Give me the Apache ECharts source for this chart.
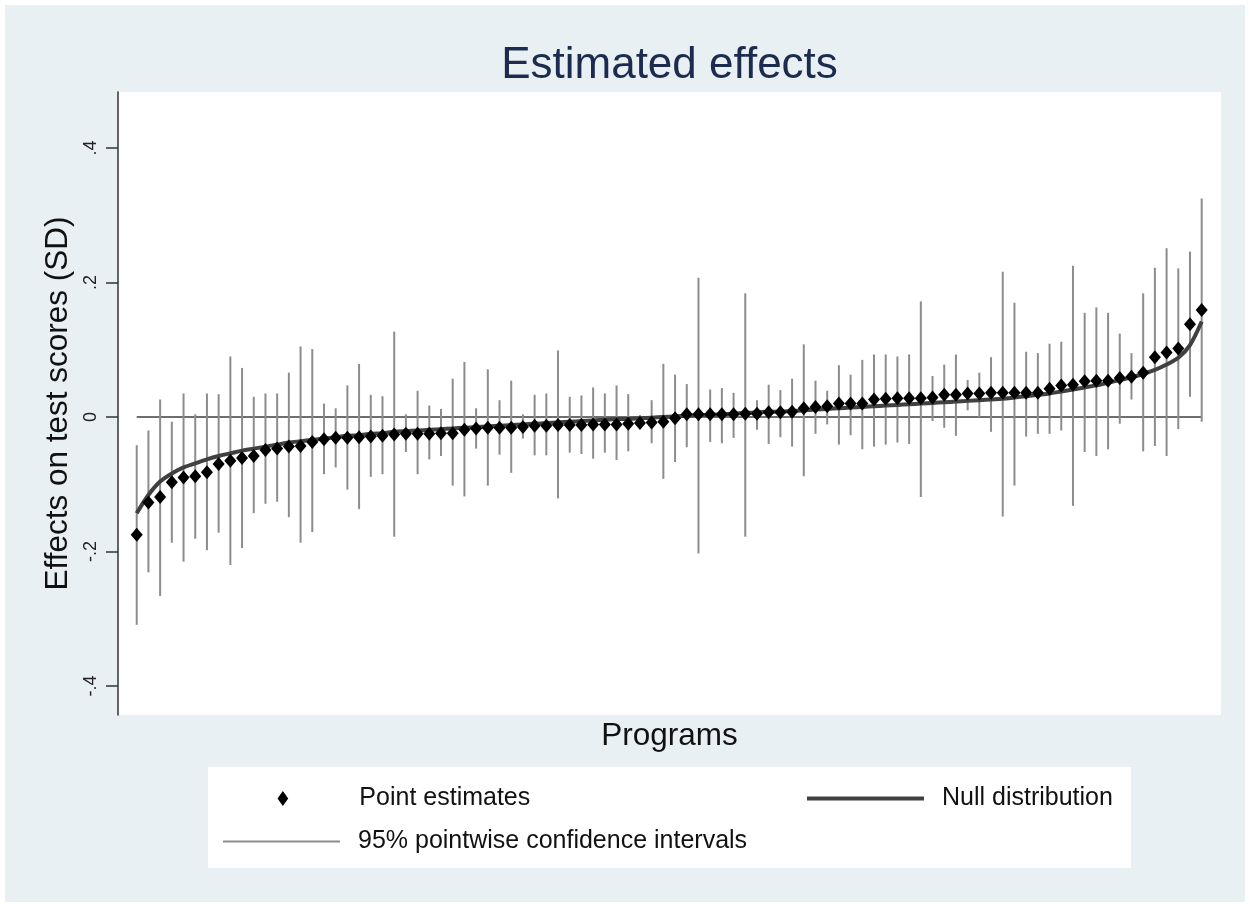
<!DOCTYPE html>
<html>
<head>
<meta charset="utf-8">
<script src="https://cdn.jsdelivr.net/npm/echarts@6/dist/echarts.min.js"></script>
<style>
  html, body { margin: 0; padding: 0; background: #ffffff; }
  #chart { position: absolute; left: 5px; top: 5px; width: 1240px; height: 897px; }
</style>
</head>
<body>
<div id="chart"></div>
<script>
// ---- Data ----
const estimates = [
  -0.175,-0.127,-0.119,-0.097,-0.090,-0.088,-0.082,-0.070,-0.065,-0.061,
  -0.058,-0.049,-0.047,-0.044,-0.043,-0.037,-0.033,-0.031,-0.031,-0.030,
  -0.029,-0.028,-0.026,-0.025,-0.025,-0.025,-0.024,-0.024,-0.019,-0.017,
  -0.016,-0.016,-0.016,-0.015,-0.013,-0.013,-0.012,-0.012,-0.012,-0.011,
  -0.011,-0.011,-0.010,-0.009,-0.008,-0.007,-0.002,0.004,0.004,0.004,
  0.004,0.004,0.005,0.005,0.007,0.007,0.008,0.013,0.015,0.016,
  0.020,0.020,0.020,0.026,0.027,0.028,0.028,0.028,0.029,0.033,
  0.033,0.035,0.035,0.036,0.036,0.036,0.036,0.036,0.042,0.047,
  0.048,0.053,0.054,0.054,0.058,0.060,0.066,0.089,0.096,0.102,
  0.138,0.159
];
const ciLow = [
  -0.309,-0.231,-0.266,-0.187,-0.215,-0.181,-0.198,-0.172,-0.220,-0.195,
  -0.143,-0.129,-0.126,-0.149,-0.187,-0.171,-0.085,-0.075,-0.108,-0.137,
  -0.089,-0.085,-0.178,-0.052,-0.085,-0.063,-0.058,-0.102,-0.118,-0.047,
  -0.102,-0.056,-0.083,-0.032,-0.057,-0.057,-0.121,-0.053,-0.055,-0.062,
  -0.053,-0.064,-0.051,-0.017,-0.039,-0.092,-0.067,-0.045,-0.203,-0.037,
  -0.039,-0.031,-0.178,-0.019,-0.040,-0.030,-0.044,-0.088,-0.025,-0.011,
  -0.041,-0.027,-0.048,-0.044,-0.041,-0.038,-0.040,-0.119,-0.006,-0.016,
  -0.028,0.010,0.000,-0.022,-0.148,-0.102,-0.029,-0.025,-0.025,-0.020,
  -0.132,-0.052,-0.058,-0.048,-0.010,0.026,-0.051,-0.043,-0.058,-0.018,
  0.030,-0.007
];
const ciHigh = [
  -0.042,-0.020,0.026,-0.007,0.035,0.004,0.035,0.034,0.090,0.073,
  0.030,0.035,0.035,0.066,0.105,0.101,0.020,0.013,0.047,0.079,
  0.033,0.031,0.127,0.004,0.039,0.017,0.012,0.057,0.082,0.013,
  0.071,0.025,0.054,0.004,0.033,0.035,0.099,0.030,0.032,0.044,
  0.035,0.047,0.034,0.003,0.025,0.079,0.063,0.049,0.207,0.041,
  0.043,0.036,0.184,0.025,0.048,0.040,0.057,0.108,0.054,0.039,
  0.077,0.063,0.085,0.093,0.093,0.090,0.093,0.172,0.061,0.078,
  0.093,0.055,0.066,0.089,0.216,0.170,0.097,0.095,0.109,0.112,
  0.225,0.155,0.163,0.155,0.124,0.095,0.184,0.222,0.251,0.221,
  0.246,0.325
];
const nullDist = [
  -0.143,-0.116,-0.096,-0.084,-0.075,-0.069,-0.063,-0.058,-0.054,-0.050,
  -0.047,-0.044,-0.041,-0.038,-0.036,-0.034,-0.032,-0.030,-0.028,-0.027,
  -0.025,-0.024,-0.022,-0.021,-0.020,-0.019,-0.018,-0.017,-0.016,-0.015,
  -0.014,-0.013,-0.012,-0.011,-0.010,-0.009,-0.008,-0.007,-0.006,-0.005,
  -0.004,-0.003,-0.003,-0.002,-0.001,0.000,0.001,0.002,0.003,0.003,
  0.004,0.005,0.006,0.007,0.008,0.008,0.009,0.010,0.011,0.012,
  0.013,0.014,0.015,0.016,0.017,0.018,0.019,0.020,0.021,0.022,
  0.023,0.024,0.025,0.026,0.027,0.029,0.031,0.033,0.035,0.038,
  0.041,0.044,0.047,0.051,0.055,0.059,0.064,0.070,0.078,0.088,
  0.107,0.142
];
// program ranks (x categories)
const programs = estimates.map((_, i) => i + 1);
const yTickValues = [-0.4, -0.2, 0, 0.2, 0.4];
const yTickLabels = ['-.4', '-.2', '0', '.2', '.4'];

// ---- Build series data ----
const pointData = programs.map((p, i) => [p, estimates[i]]);
const ciData = programs.map((p, i) => [p, ciLow[i], ciHigh[i]]);
const nullData = programs.map((p, i) => [p, nullDist[i]]);
const zeroData = [[programs[0], 0], [programs[programs.length - 1], 0]];

const FONT = '"Liberation Sans", Arial, Helvetica, sans-serif';
const CI_COLOR = '#8c8c8c';
const NULL_COLOR = '#404040';

const chart = echarts.init(document.getElementById('chart'), null, { renderer: 'canvas' });

const legendCommon = {
  orient: 'horizontal',
  padding: 0,
  itemWidth: 117,
  selectedMode: false,
  textStyle: { fontFamily: FONT, fontSize: 25, color: '#111', padding: [0, 0, 0, 13] }
};

chart.setOption({
  backgroundColor: '#e8f0f3',
  animation: false,
  title: {
    text: 'Estimated effects',
    left: 664.5,
    textAlign: 'center',
    top: 39,
    padding: 0,
    textStyle: { fontFamily: FONT, fontSize: 44, fontWeight: 'normal', color: '#1c2b4e' }
  },
  graphic: [{
    type: 'rect',
    z: -10,
    silent: true,
    shape: { x: 203, y: 762, width: 923, height: 101 },
    style: { fill: '#ffffff' }
  }],
  legend: [
    Object.assign({}, legendCommon, {
      left: 272.5, top: 781, itemHeight: 15,
      data: [{ name: 'Point estimates', icon: 'path://M5,0L10,7L5,14L0,7Z', itemStyle: { color: '#000', opacity: 1 } }]
    }),
    Object.assign({}, legendCommon, {
      left: 802, top: 781, itemHeight: 4,
      data: [{ name: 'Null distribution', icon: 'rect', itemStyle: { color: NULL_COLOR } }]
    }),
    Object.assign({}, legendCommon, {
      left: 218, top: 824, itemHeight: 2,
      data: [{ name: '95% pointwise confidence intervals', icon: 'rect', itemStyle: { color: CI_COLOR } }]
    })
  ],
  grid: {
    left: 113, top: 87, width: 1103, height: 623,
    show: true, backgroundColor: '#ffffff', borderWidth: 0,
    containLabel: false
  },
  xAxis: {
    type: 'value',
    min: -0.6, max: 93.65,
    axisLine: { show: false, onZero: false },
    axisTick: { show: false },
    axisLabel: { show: false },
    splitLine: { show: false },
    name: 'Programs',
    nameLocation: 'middle',
    nameGap: 5,
    nameTextStyle: { fontFamily: FONT, fontSize: 31.5, color: '#111' }
  },
  yAxis: {
    type: 'value',
    min: -0.4431, max: 0.4833,
    axisLine: { show: true, onZero: false, lineStyle: { color: '#333', width: 1.5 } },
    axisTick: { show: true, length: 12, customValues: yTickValues, lineStyle: { color: '#333', width: 1.5 } },
    axisLabel: {
      show: true, rotate: 90, margin: 18,
      customValues: yTickValues,
      fontFamily: FONT, fontSize: 18, color: '#222',
      formatter: function (v) {
        const idx = yTickValues.findIndex(t => Math.abs(t - v) < 1e-9);
        return idx >= 0 ? yTickLabels[idx] : '';
      }
    },
    splitLine: { show: false },
    name: 'Effects on test scores (SD)',
    nameLocation: 'middle',
    nameGap: 40,
    nameTextStyle: { fontFamily: FONT, fontSize: 31.5, color: '#111' }
  },
  series: [
    {
      name: '_zero',
      type: 'line',
      data: zeroData,
      symbol: 'none',
      silent: true,
      z: 1,
      lineStyle: { color: '#6e6e6e', width: 2 }
    },
    {
      name: '95% pointwise confidence intervals',
      type: 'custom',
      data: ciData,
      encode: { x: 0, y: [1, 2] },
      z: 2,
      itemStyle: { color: CI_COLOR },
      renderItem: function (params, api) {
        const x = api.value(0);
        const p1 = api.coord([x, api.value(1)]);
        const p2 = api.coord([x, api.value(2)]);
        return {
          type: 'line',
          shape: { x1: p1[0], y1: p1[1], x2: p2[0], y2: p2[1] },
          style: { stroke: CI_COLOR, lineWidth: 2 }
        };
      }
    },
    {
      name: 'Null distribution',
      type: 'line',
      data: nullData,
      symbol: 'none',
      smooth: 0.3,
      z: 3,
      itemStyle: { color: NULL_COLOR },
      lineStyle: { color: NULL_COLOR, width: 4 }
    },
    {
      name: 'Point estimates',
      type: 'scatter',
      data: pointData,
      symbol: 'diamond',
      symbolSize: [12, 14],
      z: 4,
      itemStyle: { color: '#000000', opacity: 1 }
    }
  ]
});
</script>
</body>
</html>
